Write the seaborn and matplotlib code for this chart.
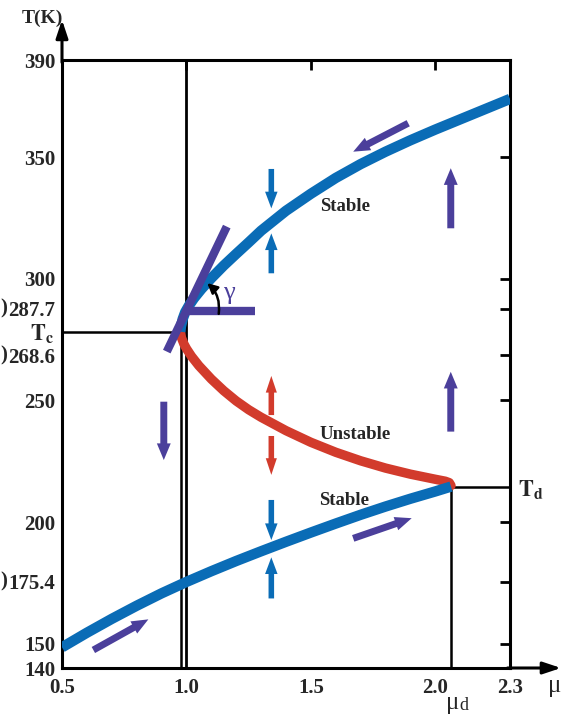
import numpy as np
import pandas as pd
import matplotlib
matplotlib.use('Agg')
import matplotlib.pyplot as plt
import seaborn as sns

# --- data ---
upper_mu = [0.975, 0.978, 0.985, 0.995, 1.01, 1.03, 1.06, 1.10, 1.15, 1.20, 1.25, 1.30,
            1.40, 1.50, 1.60, 1.70, 1.80, 1.90, 2.00, 2.10, 2.20, 2.30]
upper_T = [278.3, 280.5, 283.5, 286.3, 289.0, 292.0, 295.8, 300.3, 305.5, 310.3, 315.0, 319.8,
           328.0, 335.0, 341.5, 347.2, 352.3, 357.0, 361.4, 365.6, 369.8, 374.0]

unstable_mu = [0.975, 0.98, 0.99, 1.00, 1.02, 1.05, 1.10, 1.15, 1.20, 1.25, 1.30, 1.40,
               1.50, 1.60, 1.70, 1.80, 1.90, 2.00, 2.04, 2.056, 2.063]
unstable_T = [278.3, 275.8, 273.2, 271.3, 268.2, 264.3, 258.8, 254.0, 249.8, 246.2, 243.1,
              237.6, 232.8, 228.7, 225.2, 222.2, 219.7, 217.6, 216.8, 216.2, 215.0]

lower_mu = [0.5, 0.6, 0.7, 0.8, 0.9, 1.0, 1.1, 1.2, 1.3, 1.4, 1.5, 1.6, 1.7, 1.8, 1.9,
            2.0, 2.063]
lower_T = [148.5, 154.5, 160.2, 165.6, 170.7, 175.4, 179.8, 184.0, 188.0, 191.9, 195.7,
           199.4, 203.0, 206.4, 209.6, 212.6, 214.6]

yticks = [140, 150, 175.4, 200, 250, 268.6, 287.7, 300, 350, 390]
ytick_labels = ['140', '150', '175.4', '200', '250', '268.6', '287.7', '300', '350', '390']
# ticks whose label starts with a cut-off ")" in the source figure
paren_ticks = [175.4, 268.6, 287.7]
xticks = [0.5, 1.0, 1.5, 2.0, 2.3]
xtick_labels = ['0.5', '1.0', '1.5', '2.0', '2.3']

mu_c, T_c = 0.98, 278.3
mu_d, T_d = 2.063, 214.6

# tangent and horizontal reference at the fold
tangent_mu = [0.921, 1.162]
tangent_T = [270.1, 321.5]
horiz_mu = [1.001, 1.276]
horiz_T = [286.8, 286.8]

# flow arrows: (mu_tail, T_tail, mu_tip, T_tip)
purple_arrows = [(1.891, 364.0, 1.670, 352.3),
                 (2.062, 320.8, 2.062, 345.5),
                 (2.062, 237.2, 2.062, 261.8),
                 (0.909, 249.5, 0.909, 225.5),
                 (0.626, 147.4, 0.847, 160.0),
                 (1.670, 193.3, 1.905, 201.6)]
blue_arrows = [(1.341, 345.2, 1.341, 329.0),
               (1.341, 302.3, 1.341, 318.7),
               (1.341, 209.1, 1.341, 192.6),
               (1.341, 168.6, 1.341, 185.5)]
red_arrows = [(1.341, 244.0, 1.341, 260.1),
              (1.341, 235.4, 1.341, 219.4)]

BLUE = '#0a6cb6'
RED = '#d23b2c'
PURPLE = '#4b3f9b'

sns.set_theme(style='white')
plt.rcParams.update({
    'font.family': ['Liberation Serif', 'DejaVu Serif'],
    'font.weight': 'bold',
    'mathtext.fontset': 'stix',
    'axes.linewidth': 2.2,
})

fig = plt.figure(figsize=(5.64, 7.15), dpi=100)
ax = fig.add_axes([62 / 564, 47 / 715, 448 / 564, 608 / 715])

df_up = pd.DataFrame({'mu': upper_mu, 'T': upper_T})
df_un = pd.DataFrame({'mu': unstable_mu, 'T': unstable_T})
df_lo = pd.DataFrame({'mu': lower_mu, 'T': lower_T})

# black guide lines
ax.plot([0.5, mu_c], [T_c, T_c], color='black', lw=1.8, zorder=2)
ax.plot([mu_c, mu_c], [140, T_c], color='black', lw=1.8, zorder=2)
ax.plot([1.0, 1.0], [140, 390], color='black', lw=2.0, zorder=2)
ax.plot([mu_d, mu_d], [140, T_d], color='black', lw=1.8, zorder=2)
ax.plot([mu_d, 2.3], [T_d, T_d], color='black', lw=1.8, zorder=2)

sns.lineplot(data=df_un, x='mu', y='T', sort=False, estimator=None, color=RED,
             lw=6.8, solid_capstyle='round', solid_joinstyle='round', ax=ax, zorder=3)
sns.lineplot(data=df_up, x='mu', y='T', sort=False, estimator=None, color=BLUE,
             lw=7.5, solid_capstyle='butt', solid_joinstyle='round', ax=ax, zorder=4)
sns.lineplot(data=df_lo, x='mu', y='T', sort=False, estimator=None, color=BLUE,
             lw=7.5, solid_capstyle='butt', solid_joinstyle='round', ax=ax, zorder=4)

ax.plot(tangent_mu, tangent_T, color=PURPLE, lw=6, solid_capstyle='butt', zorder=5)
ax.plot(horiz_mu, horiz_T, color=PURPLE, lw=6, solid_capstyle='butt', zorder=5)

# gamma arc
ax.annotate('', xy=(1.075, 299.0), xytext=(1.128, 284.5),
            arrowprops=dict(arrowstyle='-|>,head_length=0.5,head_width=0.25', color='black',
                            lw=1.8, connectionstyle='arc3,rad=0.3'), zorder=6)
ax.text(1.17, 294.0, 'γ', color=PURPLE, fontsize=19, fontweight='normal',
        ha='center', va='center')


def fat_arrow(a, color, tail, head_w, head_l):
    ax.annotate('', xy=(a[2], a[3]), xytext=(a[0], a[1]),
                arrowprops=dict(arrowstyle=f'simple,head_length={head_l},head_width={head_w},'
                                           f'tail_width={tail}',
                                color=color, lw=0, shrinkA=0, shrinkB=0,
                                mutation_scale=10), zorder=6)


for a in purple_arrows:
    fat_arrow(a, PURPLE, 0.5, 1.0, 1.2)
for a in blue_arrows:
    fat_arrow(a, BLUE, 0.4, 0.9, 1.2)
for a in red_arrows:
    fat_arrow(a, RED, 0.4, 0.8, 1.2)

# labels on curves
ax.text(1.637, 329.6, 'Stable', fontsize=13.5, ha='center', va='center')
ax.text(1.677, 236.2, 'Unstable', fontsize=13.5, ha='center', va='center')
ax.text(1.633, 208.7, 'Stable', fontsize=13.5, ha='center', va='center')

ax.set_xlim(0.5, 2.3)
ax.set_ylim(140, 390)
ax.set_xticks(xticks)
ax.set_xticklabels(xtick_labels)
ax.set_yticks(yticks)
ax.set_yticklabels(ytick_labels)
ax.set_xlabel('')
ax.set_ylabel('')
ax.tick_params(direction='in', length=7.5, width=2, labelsize=15, top=True, right=True,
               color='black', pad=5)
ax.tick_params(axis='x', pad=7)
for s in ax.spines.values():
    s.set_color('black')

# the ")" fragments left of some tick labels
for t in paren_ticks:
    ax.annotate(')', xy=(0, t), xycoords=('figure pixels', 'data'), fontsize=15,
                ha='left', va='center', annotation_clip=False)

# axis arrows
ax.annotate('', xy=(0.5, 406.5), xytext=(0.5, 389), xycoords='data',
            arrowprops=dict(arrowstyle='-|>,head_length=0.9,head_width=0.3', color='black',
                            lw=2.2, shrinkA=0, shrinkB=0), annotation_clip=False)
ax.annotate('', xy=(2.505, 140), xytext=(2.29, 140), xycoords='data',
            arrowprops=dict(arrowstyle='-|>,head_length=0.9,head_width=0.3', color='black',
                            lw=2.2, shrinkA=0, shrinkB=0), annotation_clip=False)

fig.text(42 / 564, 1 - 18 / 715, 'T(K)', fontsize=14, ha='center', va='center')
fig.text(555 / 564, 1 - 686 / 715, 'μ', fontsize=18, ha='center', va='center',
         fontweight='normal')
fig.text(459 / 564, 1 - 703 / 715, 'μ', fontsize=18, ha='right', va='center',
         fontweight='normal')
fig.text(459 / 564, 1 - 706 / 715, 'd', fontsize=13, ha='left', va='center',
         fontweight='normal')
fig.text(54 / 564, 1 - 334 / 715, r'$\mathbf{T_c}$', fontsize=16, ha='right', va='center')
fig.text(518 / 564, 1 - 490 / 715, r'$\mathbf{T_d}$', fontsize=16, ha='left', va='center')

fig.savefig('out.png', dpi=100)
